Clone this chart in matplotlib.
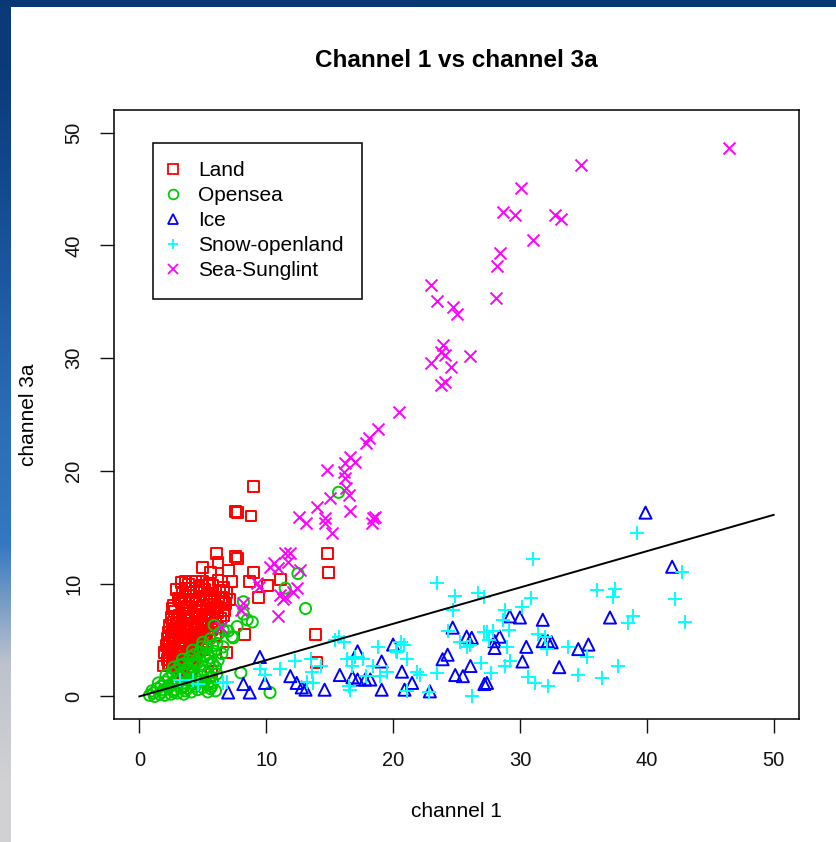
import numpy as np
import matplotlib.pyplot as plt
from matplotlib.lines import Line2D

plt.rcParams['font.family'] = ['Liberation Sans', 'DejaVu Sans']

# ---- data (channel 1, channel 3a) ----
land_x = [9.0, 7.6, 7.7, 8.8, 6.1, 7.6, 7.7, 6.2, 5.0, 7.0, 5.6, 14.8, 14.9, 11.1, 10.1,
          9.4, 8.3, 6.9, 13.9, 14.0, 1.9, 2.3, 3.6, 5.0, 7.3, 8.7, 9.0, 5.7,
          3.3, 3.9, 4.4, 4.9, 5.5, 6.2, 6.6,
          2.9, 3.4, 4.0, 4.5, 5.1, 5.7, 6.3, 6.9,
          3.1, 3.6, 4.2, 4.7, 5.3, 5.9, 6.5, 7.1,
          2.7, 3.3, 3.8, 4.4, 5.0, 5.5, 6.1, 6.8,
          2.8, 3.4, 3.9, 4.5, 5.1, 5.6, 6.2, 6.7,
          2.5, 3.0, 3.6, 4.1, 4.7, 5.3, 5.8, 6.4,
          2.4, 2.9, 3.5, 4.0, 4.6, 5.1, 5.7, 6.2,
          2.3, 2.8, 3.3, 3.9, 4.4, 5.0, 5.5, 6.0,
          2.2, 2.7, 3.2, 3.7, 4.3, 4.8, 5.3,
          2.1, 2.6, 3.1, 3.6, 4.1, 4.6, 5.0,
          2.0, 2.5, 3.0, 3.5, 4.0, 4.5,
          2.2, 2.7, 3.2, 3.7, 4.2,
          2.6, 3.1, 3.6, 4.1,
          3.0, 3.5, 4.0,
          3.6, 4.7, 5.8, 3.2, 4.4, 5.6, 6.6, 2.6, 3.6, 4.8, 5.9, 3.2, 4.4, 5.5, 6.6,
          2.7, 3.8, 4.9, 6.0, 2.6, 3.6, 4.6, 5.7, 2.5, 3.5, 4.6, 2.4, 3.4, 4.4, 2.3,
          3.3, 4.3, 2.4, 3.4, 4.4, 2.9, 3.9, 3.3, 2.4, 4.8]
land_y = [18.6, 16.4, 16.3, 16.0, 12.7, 12.4, 12.2, 11.9, 11.4, 11.2, 11.0, 12.7, 11.0, 10.4, 9.8,
          8.8, 5.5, 3.9, 5.5, 3.0, 2.7, 2.7, 10.2, 10.2, 10.2, 10.2, 11.0, 2.2,
          10.1, 9.9, 10.2, 9.8, 10.0, 10.3, 9.7,
          9.5, 9.2, 9.6, 9.3, 9.5, 9.1, 9.4, 9.2,
          8.7, 8.9, 8.6, 8.9, 8.7, 8.5, 8.8, 8.6,
          8.1, 8.3, 8.0, 8.2, 8.1, 8.4, 8.0, 8.2,
          7.5, 7.7, 7.4, 7.6, 7.3, 7.7, 7.4, 7.6,
          7.0, 6.8, 7.1, 6.9, 7.1, 6.8, 7.0, 6.9,
          6.3, 6.5, 6.2, 6.4, 6.2, 6.5, 6.3, 6.1,
          5.7, 5.9, 5.6, 5.8, 5.5, 5.8, 5.6, 5.4,
          5.1, 5.3, 5.0, 5.2, 5.0, 5.3, 4.9,
          4.5, 4.7, 4.4, 4.6, 4.3, 4.6, 4.2,
          3.9, 4.1, 3.8, 4.0, 3.7, 3.9,
          3.3, 3.5, 3.2, 3.4, 3.1,
          2.8, 2.6, 2.9, 2.5,
          2.1, 1.9, 2.2,
          9.6, 9.7, 9.8, 8.5, 8.5, 8.7, 8.4, 7.8, 7.9, 7.9, 7.8, 7.2, 7.3, 7.2, 7.2,
          6.6, 6.7, 6.6, 6.6, 6.0, 6.0, 5.9, 5.9, 5.4, 5.4, 5.5, 4.8, 4.8, 4.8, 4.2,
          4.3, 4.2, 3.6, 3.7, 3.5, 3.0, 3.1, 2.4, 2.9, 5.1]

opensea_x = [15.7, 12.5, 13.1, 11.5, 10.3, 8.0, 8.2, 8.9, 8.2, 7.7, 7.3, 6.6, 6.6, 7.4, 8.5, 5.7,
             0.8, 1.2, 1.6, 2.0, 2.5, 3.0, 3.5, 4.1,
             1.0, 1.4, 1.9, 2.3, 2.8, 3.3, 3.8, 4.4, 5.0, 5.6, 6.0,
             1.5, 2.0, 2.5, 3.0, 3.5, 4.0, 4.6, 5.2, 5.8,
             2.1, 2.6, 3.1, 3.6, 4.2, 4.8, 5.4, 6.1,
             2.7, 3.2, 3.8, 4.3, 4.9, 5.5, 6.0,
             3.4, 4.0, 4.5, 5.1, 5.6, 6.2,
             4.2, 4.8, 5.3, 5.9, 6.5,
             5.0, 5.6, 6.1, 6.3, 5.9, 7.0,
             1.1, 1.8, 2.7, 3.6, 4.6, 5.4, 1.7, 2.6, 3.5, 4.3, 5.4, 2.3, 3.3, 4.4, 5.6,
             2.9, 3.9, 5.1, 3.5, 4.6, 5.8, 4.3, 5.4, 4.9, 5.8]
opensea_y = [18.1, 10.9, 7.8, 9.6, 0.35, 2.1, 8.4, 6.6, 7.3, 6.2, 5.3, 4.4, 5.9, 5.2, 6.8, 0.9,
             0.1, 0.0, 0.2, 0.1, 0.2, 0.3, 0.2, 0.4,
             0.5, 0.7, 0.6, 0.8, 0.6, 0.8, 0.7, 0.9, 0.8, 0.7, 0.5,
             1.2, 1.3, 1.1, 1.4, 1.2, 1.5, 1.3, 1.4, 1.2,
             1.9, 2.1, 1.8, 2.0, 2.2, 1.9, 2.1, 2.0,
             2.6, 2.8, 2.5, 2.9, 2.7, 2.9, 2.6,
             3.3, 3.5, 3.2, 3.6, 3.4, 3.2,
             4.1, 3.9, 4.3, 4.0, 3.8,
             4.8, 5.1, 4.7, 5.6, 6.3, 5.8,
             0.3, 0.4, 0.4, 0.5, 0.6, 0.4, 0.9, 1.0, 0.9, 1.1, 1.0, 1.6, 1.6, 1.7, 1.7,
             2.3, 2.3, 2.3, 2.9, 3.0, 2.9, 3.7, 3.8, 4.4, 4.5]

ice_x = [9.5, 7.0, 8.2, 8.7, 9.9, 11.9, 12.4, 12.8, 13.1, 14.6, 15.8, 16.8, 17.2, 17.2, 17.8,
         18.2, 19.1, 19.1, 20.0, 20.7, 20.9, 21.5, 22.9, 23.9, 24.3, 24.7, 24.9, 25.5, 25.8,
         26.2, 26.1, 27.4, 28.0, 42.0, 29.2, 30.0, 31.8, 28.4, 28.0, 30.5, 31.8, 32.2, 32.5,
         30.2, 33.1, 34.6, 35.4, 37.1, 27.2, 39.9]
ice_y = [3.5, 0.35, 1.1, 0.35, 1.2, 1.8, 1.2, 0.8, 0.6, 0.6, 1.9, 1.7, 4.0, 1.5, 1.5,
         1.5, 3.1, 0.6, 4.6, 2.2, 0.6, 1.2, 0.45, 3.3, 3.7, 6.1, 1.9, 1.8, 5.3,
         5.2, 2.7, 1.2, 4.9, 11.5, 7.1, 7.0, 6.8, 5.3, 4.3, 4.4, 4.9, 4.9, 4.8,
         3.1, 2.6, 4.2, 4.6, 7.0, 1.1, 16.3]

snow_x = [23.5, 24.9, 26.7, 24.7, 15.7, 18.8, 20.6, 20.9, 24.3, 27.2, 27.9, 25.3, 25.8, 26.1,
          26.9, 27.7, 23.5, 26.2, 21.1, 22.8, 19.5, 18.4, 17.9, 19.0, 17.6, 16.4, 16.8, 17.0,
          16.5, 16.6, 13.5, 13.6, 14.3, 13.7, 13.2, 12.3, 11.1, 9.5, 9.9, 6.9, 20.3, 21.1,
          20.2, 15.4, 16.1, 21.9, 22.1,
          39.2, 31.0, 42.8, 36.1, 37.5, 37.3, 30.9, 42.2, 38.9, 38.5, 43.0, 27.2, 28.8, 30.2,
          28.7, 29.1, 27.4, 27.6, 29.0, 31.4, 32.0, 32.1, 33.8, 35.3, 29.2, 28.8, 30.6, 31.2,
          32.2, 34.6, 36.5, 37.7,
          3.2, 4.2, 4.6, 6.6]
snow_y = [10.1, 8.9, 9.2, 7.7, 5.3, 4.4, 4.8, 4.6, 5.8, 5.7, 5.8, 4.8, 4.4, 4.6,
          3.0, 2.1, 2.1, 0.0, 0.45, 0.35, 2.2, 2.7, 1.8, 1.8, 3.3, 3.3, 2.7, 3.5,
          0.9, 0.6, 3.3, 2.2, 2.7, 1.2, 1.3, 3.1, 2.4, 2.4, 1.9, 1.3, 3.9, 3.3,
          4.0, 5.0, 4.8, 2.2, 1.9,
          14.5, 12.2, 11.0, 9.4, 9.5, 8.8, 8.7, 8.6, 7.1, 6.5, 6.6, 8.8, 7.7, 7.9,
          6.8, 5.9, 5.7, 5.0, 4.4, 5.5, 5.3, 4.2, 4.4, 3.5, 3.1, 2.7, 1.7, 1.2,
          0.9, 1.9, 1.6, 2.7,
          1.5, 1.5, 1.1, 1.2]

sunglint_x = [46.5, 34.8, 30.1, 28.7, 29.6, 32.8, 33.2, 31.0, 28.4, 28.2, 23.0, 23.5, 28.1,
              24.7, 25.0, 23.9, 23.8, 24.1, 23.0, 24.6, 26.1, 24.1, 23.8, 20.5, 18.8, 18.1,
              17.9, 16.6, 16.2, 17.0, 16.1, 16.2, 14.8, 16.3, 16.5, 15.0, 14.0, 12.6, 13.1,
              14.6, 14.6, 15.2, 16.6, 18.6, 18.4, 18.3, 11.5, 11.9, 10.6, 10.9, 12.7, 10.3,
              11.7, 9.3, 9.4, 11.1, 11.5, 11.3, 12.4, 12.1, 10.9, 8.2, 8.0, 6.4]
sunglint_y = [48.6, 47.1, 45.1, 43.0, 42.7, 42.7, 42.3, 40.5, 39.3, 38.2, 36.5, 35.1, 35.3,
              34.5, 33.9, 31.2, 30.5, 30.3, 29.6, 29.2, 30.2, 27.9, 27.6, 25.2, 23.7, 22.9,
              22.5, 21.2, 20.7, 20.8, 19.9, 19.4, 20.1, 18.5, 17.9, 17.6, 16.8, 15.9, 15.4,
              15.8, 15.4, 14.5, 16.4, 15.9, 15.8, 15.4, 12.7, 12.7, 11.8, 11.4, 11.2, 11.5,
              11.9, 10.1, 9.7, 9.0, 8.8, 8.6, 9.6, 9.3, 7.1, 8.3, 7.7, 6.2]

line_x = [0, 50]
line_y = [0, 16.1]

classes = ['Land', 'Opensea', 'Ice', 'Snow-openland', 'Sea-Sunglint']
colors = ['#ff0000', '#00cd00', '#0000ff', '#00ffff', '#ff00ff']
markers = ['s', 'o', '^', '+', 'x']
sizes = [62, 64, 76, 115, 74]
ticks = [0, 10, 20, 30, 40, 50]

fig = plt.figure(figsize=(8.36, 8.42), dpi=100)

# slide background peeking in at the top and left edges
top = fig.add_axes([0, 1 - 7 / 842, 1, 7 / 842])
top.imshow([[[0.04, 0.22, 0.46], [0.03, 0.22, 0.45]]], aspect='auto')
top.set_axis_off()
left = fig.add_axes([0, 0, 11 / 836, 1 - 7 / 842])
stops = np.array([[0.04, 0.23, 0.48], [0.07, 0.29, 0.56], [0.12, 0.36, 0.65],
                  [0.17, 0.43, 0.72], [0.20, 0.47, 0.76], [0.74, 0.76, 0.80],
                  [0.82, 0.82, 0.83]])
left.imshow(stops[:, None, :], aspect='auto', interpolation='bilinear')
left.set_axis_off()

ax = fig.add_axes([114 / 836, 123 / 842, 685 / 836, 609 / 842])
data = [(land_x, land_y), (opensea_x, opensea_y), (ice_x, ice_y),
        (snow_x, snow_y), (sunglint_x, sunglint_y)]
for (xs, ys), name, col, mk, s in zip(data, classes, colors, markers, sizes):
    if mk in '+x':
        ax.scatter(xs, ys, s=s, marker=mk, c=col, linewidths=1.4, label=name)
    else:
        ax.scatter(xs, ys, s=s, marker=mk, facecolors='none', edgecolors=col,
                   linewidths=1.4, label=name)
ax.plot(line_x, line_y, color='black', lw=1.4)

ax.set_xlim(-2, 52)
ax.set_ylim(-2, 52)
ax.set_xticks(ticks)
ax.set_yticks(ticks)
ax.tick_params(direction='out', length=10, width=1, labelsize=14.5, colors='#111111')
ax.tick_params(axis='x', pad=13)
ax.tick_params(axis='y', pad=12)
for lab in ax.get_yticklabels():
    lab.set_rotation(90)
    lab.set_va('center')
for sp in ax.spines.values():
    sp.set_linewidth(1.1)

ax.set_title('Channel 1 vs channel 3a', fontsize=17.5, fontweight='bold', pad=31)
ax.set_xlabel('channel 1', fontsize=15)
ax.set_ylabel('channel 3a', fontsize=15)
ax.xaxis.set_label_coords(0.5, -0.136)
ax.yaxis.set_label_coords(-0.111, 0.5)

handles = [Line2D([], [], ls='none', marker=mk, color=col, markerfacecolor='none',
                  markersize=7, markeredgewidth=1.3)
           for col, mk in zip(colors, markers)]
leg = ax.legend(handles, classes, loc='upper left', bbox_to_anchor=(0.057, 0.946),
                borderaxespad=0, fontsize=15, frameon=True, fancybox=False,
                edgecolor='black', framealpha=1, borderpad=0.88, labelspacing=0.29,
                handlelength=0.2, handletextpad=1.08)
leg.get_frame().set_linewidth(1.1)

fig.savefig('out.png', dpi=100)
